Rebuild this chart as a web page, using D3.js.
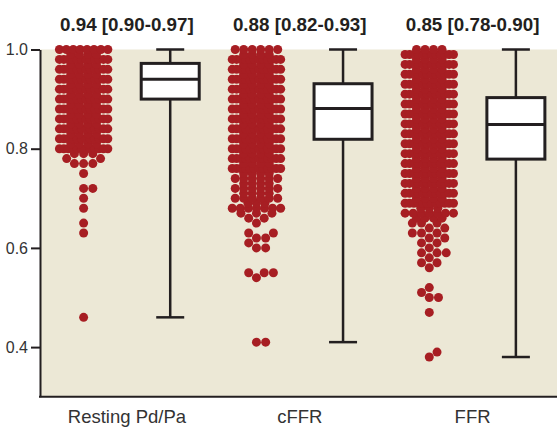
<!DOCTYPE html>
<html>
<head>
<meta charset="utf-8">
<script src="https://cdn.jsdelivr.net/npm/d3@7"></script>
<style>
  body { margin: 0; background: #fff; }
  svg { display: block; }
</style>
</head>
<body>
<div id="chart"></div>
<script>
// Beeswarm + box plot, three measures

const groups = ['Resting Pd/Pa', 'cFFR', 'FFR'];
const titles = ['0.94 [0.90-0.97]', '0.88 [0.82-0.93]', '0.85 [0.78-0.90]'];

// box stats
const boxQ1 = [0.90, 0.819, 0.779];
const boxMedian = [0.94, 0.881, 0.849];
const boxQ3 = [0.972, 0.931, 0.903];
const boxMax = [1.0, 1.0, 1.0];

// [value, number of visible dots] per 0.01 level
const restingCounts = [
  [1.00, 8], [0.99, 4], [0.98, 12], [0.97, 4], [0.96, 12], [0.95, 4], [0.94, 12],
  [0.93, 4], [0.92, 12], [0.91, 4], [0.90, 12], [0.89, 4], [0.88, 12], [0.87, 4],
  [0.86, 12], [0.85, 4], [0.84, 12], [0.83, 4], [0.82, 12], [0.81, 4], [0.80, 12],
  [0.79, 3], [0.78, 2], [0.77, 3], [0.75, 1], [0.72, 2], [0.70, 1], [0.68, 1],
  [0.65, 1], [0.63, 1], [0.46, 1]
];
const cffrCounts = [
  [1.00, 6], [0.99, 4], [0.98, 12], [0.97, 4], [0.96, 12], [0.95, 4], [0.94, 12],
  [0.93, 4], [0.92, 12], [0.91, 4], [0.90, 12], [0.89, 4], [0.88, 12], [0.87, 4],
  [0.86, 12], [0.85, 4], [0.84, 12], [0.83, 4], [0.82, 12], [0.81, 4], [0.80, 12],
  [0.79, 4], [0.78, 12], [0.77, 4], [0.76, 12], [0.75, 4], [0.74, 6], [0.73, 4],
  [0.72, 6], [0.71, 4], [0.70, 6], [0.69, 3], [0.68, 7], [0.67, 3], [0.66, 2],
  [0.65, 1], [0.63, 2], [0.62, 2], [0.61, 1], [0.60, 2], [0.55, 3], [0.54, 1], [0.41, 2]
];
const ffrCounts = [
  [1.00, 4], [0.99, 12], [0.98, 4], [0.97, 12], [0.96, 4], [0.95, 12], [0.94, 4],
  [0.93, 12], [0.92, 4], [0.91, 12], [0.90, 4], [0.89, 12], [0.88, 4], [0.87, 12],
  [0.86, 4], [0.85, 12], [0.84, 4], [0.83, 12], [0.82, 4], [0.81, 12], [0.80, 4],
  [0.79, 12], [0.78, 4], [0.77, 12], [0.76, 4], [0.75, 12], [0.74, 4], [0.73, 12],
  [0.72, 4], [0.71, 12], [0.70, 4], [0.69, 12], [0.68, 3], [0.67, 7], [0.66, 4],
  [0.65, 3], [0.64, 2], [0.63, 3], [0.62, 2], [0.61, 2], [0.60, 1], [0.59, 3],
  [0.58, 1], [0.57, 2], [0.56, 1], [0.52, 1], [0.51, 1], [0.50, 2], [0.47, 1],
  [0.39, 1], [0.38, 1]
];
const allCounts = [restingCounts, cffrCounts, ffrCounts];

const yTicks = [0.4, 0.6, 0.8, 1.0];

const width = 557, height = 427;
const plotLeft = 40, plotRight = 557, plotTop = 49.5, plotBottom = 396.7;

const svg = d3.select('#chart').append('svg')
  .attr('width', width)
  .attr('height', height);

const x = d3.scaleBand().domain(groups).range([40.5, 559]);
const y = d3.scaleLinear().domain([0.3, 1.0]).range([plotBottom, plotTop]);

const dotR = 4.5;
const minDist = 9.2;
const rowStep = 8.5;
const cap = 24.2;
const offset = 43.3;

// background
svg.append('rect')
  .attr('x', plotLeft).attr('y', plotTop)
  .attr('width', plotRight - plotLeft).attr('height', plotBottom - plotTop)
  .attr('fill', '#ece8d6');

// greedy beeswarm per level; a level that does not fit is laid as one packed row
function swarm(levels) {
  const placed = [];
  levels.slice().sort((a, b) => a[0] - b[0]).forEach(([v, n]) => {
    const py = y(v);
    const near = placed.filter(p => Math.abs(p.y - py) < minDist);
    const mine = [];
    let fits = true;
    for (let k = 0; k < n && fits; k++) {
      const others = near.concat(mine);
      const cands = [0];
      others.forEach(p => {
        const dx = Math.sqrt(minDist * minDist - (p.y - py) * (p.y - py));
        cands.push(p.x + dx, p.x - dx);
      });
      const ok = cands.filter(cx => Math.abs(cx) <= cap + 1e-6 &&
        others.every(p => (p.x - cx) ** 2 + (p.y - py) ** 2 >= minDist * minDist - 1e-3));
      if (!ok.length) { fits = false; break; }
      const px = ok.reduce((a, b) => Math.abs(b) < Math.abs(a) - 1e-9 ? b : a);
      mine.push({ x: px, y: py, v: v });
    }
    if (!fits) {
      mine.length = 0;
      const step = n > 1 ? Math.min(rowStep, 2 * cap / (n - 1)) : 0;
      for (let k = 0; k < n; k++) {
        mine.push({ x: (k - (n - 1) / 2) * step, y: py, v: v });
      }
    }
    mine.forEach(p => placed.push(p));
  });
  return placed;
}

groups.forEach((g, i) => {
  const dots = swarm(allCounts[i]);
  const cx = x(g) + x.bandwidth() / 2 - offset;

  svg.append('g')
    .selectAll('circle')
    .data(dots)
    .join('circle')
    .attr('cx', d => cx + d.x)
    .attr('cy', d => d.y)
    .attr('r', dotR)
    .attr('fill', '#a71e23');

  // box
  const bx = x(g) + x.bandwidth() / 2 + offset;
  const lo = d3.min(allCounts[i], d => d[0]);
  const box = svg.append('g').attr('stroke', '#231f20').attr('fill', 'none');
  box.append('line')
    .attr('x1', bx).attr('x2', bx)
    .attr('y1', y(boxMax[i])).attr('y2', y(lo))
    .attr('stroke-width', 2.5);
  box.selectAll('line.cap')
    .data([boxMax[i], lo])
    .join('line')
    .attr('class', 'cap')
    .attr('x1', bx - 14).attr('x2', bx + 14)
    .attr('y1', d => y(d)).attr('y2', d => y(d))
    .attr('stroke-width', 2.5);
  box.append('rect')
    .attr('x', bx - 29).attr('width', 58)
    .attr('y', y(boxQ3[i])).attr('height', y(boxQ1[i]) - y(boxQ3[i]))
    .attr('fill', '#fff')
    .attr('stroke-width', 3);
  box.append('line')
    .attr('x1', bx - 29).attr('x2', bx + 29)
    .attr('y1', y(boxMedian[i])).attr('y2', y(boxMedian[i]))
    .attr('stroke-width', 3);

  // title
  svg.append('text')
    .attr('x', x(g) + x.bandwidth() / 2)
    .attr('y', 31)
    .attr('text-anchor', 'middle')
    .attr('font-family', '"Liberation Sans Narrow", sans-serif')
    .attr('font-weight', 'bold')
    .attr('font-size', 18.8)
    .attr('fill', '#231f20')
    .text(titles[i]);
});

// axes
const yAxis = svg.append('g')
  .attr('transform', `translate(${plotLeft},0)`)
  .call(d3.axisLeft(y).tickValues(yTicks).tickFormat(d3.format('.1f'))
    .tickSize(9).tickSizeOuter(0).tickPadding(3));
yAxis.select('.domain').attr('stroke', '#231f20').attr('stroke-width', 2);
yAxis.selectAll('.tick line').attr('stroke', '#231f20').attr('stroke-width', 2);
yAxis.selectAll('.tick text')
  .attr('font-family', '"Liberation Sans Narrow", sans-serif')
  .attr('font-size', 16)
  .attr('fill', '#333');

const xAxis = svg.append('g')
  .attr('transform', `translate(0,${plotBottom})`)
  .call(d3.axisBottom(x).tickSize(0).tickPadding(13));
xAxis.select('.domain').remove();
xAxis.selectAll('.tick text')
  .attr('font-family', '"Liberation Sans", sans-serif')
  .attr('font-size', 18.5)
  .attr('fill', '#333');
svg.append('line')
  .attr('x1', plotLeft - 1).attr('x2', width)
  .attr('y1', plotBottom).attr('y2', plotBottom)
  .attr('stroke', '#231f20').attr('stroke-width', 2);
</script>
</body>
</html>
